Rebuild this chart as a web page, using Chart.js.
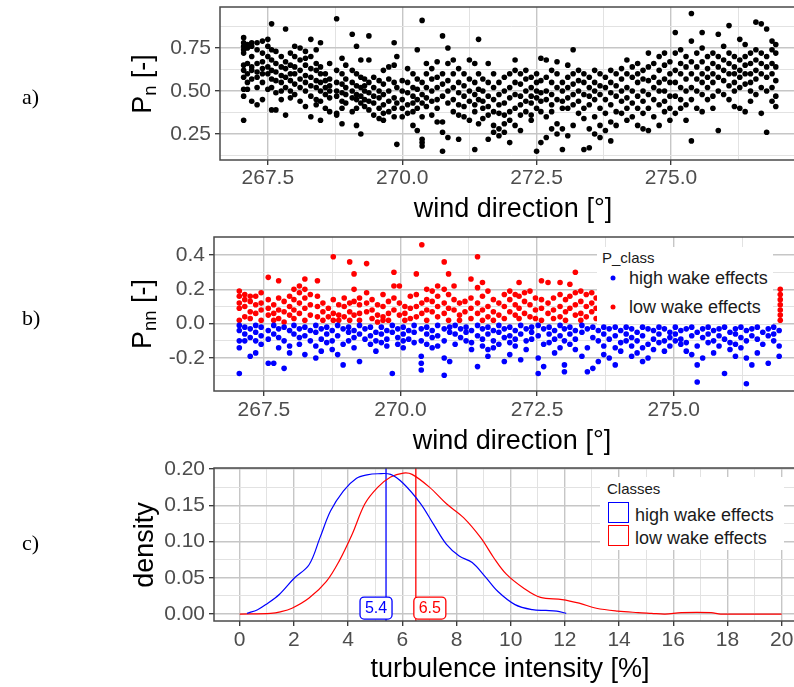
<!DOCTYPE html>
<html>
<head>
<meta charset="utf-8">
<script src="https://cdn.jsdelivr.net/npm/chart.js@4.4.1/dist/chart.umd.min.js"></script>
<style>
    html, body { margin: 0; overflow: hidden; }
    body { width: 794px; height: 687px; position: relative; background: #fff; font-family: 'Liberation Sans', Arial, sans-serif; }
    canvas { position: absolute; left: 0; }
    .tag { position: absolute; left: 22px; font-family: 'Liberation Serif', 'Times New Roman', serif; font-size: 22px; transform: translateY(-50%); }
    .xtitle { position: absolute; transform: translate(-50%, -50%); font-size: 27px; white-space: nowrap; color: #000; }
    .ytitle { position: absolute; transform: translate(-50%, -50%) rotate(-90deg); font-size: 27px; white-space: nowrap; color: #000; }
    .ytitle sub { font-size: 0.68em; vertical-align: -0.25em; }
    .legend { position: absolute; background: #fff; color: #1a1a1a; }
    .legend .ltitle { position: absolute; font-size: 15px; }
    .legend .item { position: absolute; font-size: 18px; white-space: nowrap; transform: translateY(-50%); }
    .dot { position: absolute; width: 5px; height: 5px; border-radius: 50%; transform: translate(-50%, -50%); }
    .key { position: absolute; width: 19px; height: 19px; border: 1.5px solid; background: #fff; }
</style>
</head>
<body>
<canvas id="chartA" width="806" height="225" style="top:0"></canvas>
<canvas id="chartB" width="810" height="225" style="top:225px"></canvas>
<canvas id="chartC" width="809" height="232" style="top:455px"></canvas>

<div class="tag" style="top:97px">a)</div>
<div class="tag" style="top:318px">b)</div>
<div class="tag" style="top:543px">c)</div>

<div class="ytitle" style="left:144px; top:84px">P<sub>n</sub> [-]</div>
<div class="xtitle" style="left:513px; top:208px">wind direction [°]</div>
<div class="ytitle" style="left:144px; top:314px">P<sub>nn</sub> [-]</div>
<div class="xtitle" style="left:512px; top:440px">wind direction [°]</div>
<div class="ytitle" style="left:144px; top:545px">density</div>
<div class="xtitle" style="left:510px; top:668px">turbulence intensity [%]</div>

<div class="legend" id="legendB" style="left:597px; top:247px; width:176px; height:77px"></div>
<div class="legend" id="legendC" style="left:600px; top:477px; width:184px; height:73px"></div>

<script>
// axis ticks (major ones get a label)
const dirTicks = [267.5, 268.75, 270, 271.25, 272.5, 273.75, 275, 276.25];
const dirLabels = [267.5, 270, 272.5, 275];
const pnTicks = [0.125, 0.25, 0.375, 0.5, 0.625, 0.75, 0.875];
const pnLabels = [0.25, 0.5, 0.75];
const pnnTicks = [-0.3, -0.2, -0.1, 0, 0.1, 0.2, 0.3, 0.4];
const pnnLabels = [-0.2, 0, 0.2, 0.4];
const tiTicks = [0, 1, 2, 3, 4, 5, 6, 7, 8, 9, 10, 11, 12, 13, 14, 15, 16, 17, 18, 19, 20];
const tiLabels = [0, 2, 4, 6, 8, 10, 12, 14, 16, 18, 20];
const densTicks = [0, 0.025, 0.05, 0.075, 0.1, 0.125, 0.15, 0.175, 0.2];
const densLabels = [0, 0.05, 0.1, 0.15, 0.2];

const classNames = ['high wake effects', 'low wake effects'];
const classColors = ['#0000ff', '#ff0000'];
const meanTI = [5.4, 6.5];

// a) normalised power: [wind direction, Pn values...]
const pnRows = [
    [267.05, 0.81, 0.78, 0.76, 0.74, 0.72, 0.65, 0.62, 0.58, 0.51, 0.47, 0.33],
    [267.12, 0.77, 0.75, 0.66, 0.60, 0.55, 0.51],
    [267.20, 0.78, 0.76, 0.70, 0.64, 0.62, 0.57, 0.44],
    [267.30, 0.78, 0.74, 0.66, 0.61, 0.58, 0.52, 0.42],
    [267.40, 0.79, 0.72, 0.67, 0.63, 0.60, 0.55, 0.45],
    [267.50, 0.80, 0.76, 0.70, 0.64, 0.60, 0.51],
    [267.57, 0.89, 0.74, 0.68, 0.62, 0.57, 0.52, 0.39],
    [267.65, 0.73, 0.66, 0.61, 0.56, 0.49, 0.39],
    [267.75, 0.70, 0.64, 0.59, 0.55, 0.50, 0.45],
    [267.83, 0.86, 0.67, 0.63, 0.58, 0.52, 0.36],
    [267.92, 0.72, 0.65, 0.60, 0.56, 0.50, 0.46],
    [268.00, 0.76, 0.70, 0.64, 0.60, 0.54, 0.48],
    [268.10, 0.75, 0.68, 0.62, 0.57, 0.52, 0.44],
    [268.20, 0.73, 0.69, 0.65, 0.59, 0.55, 0.50, 0.41],
    [268.30, 0.80, 0.70, 0.63, 0.58, 0.53, 0.47, 0.35],
    [268.40, 0.74, 0.66, 0.62, 0.56, 0.52, 0.45, 0.42],
    [268.48, 0.78, 0.64, 0.60, 0.55, 0.50, 0.44, 0.33],
    [268.57, 0.60, 0.56, 0.52, 0.48, 0.40],
    [268.65, 0.66, 0.57, 0.53, 0.50, 0.46, 0.38],
    [268.78, 0.92, 0.62, 0.55, 0.50, 0.47, 0.37, 0.36],
    [268.88, 0.69, 0.60, 0.54, 0.49, 0.44, 0.40, 0.31],
    [268.95, 0.65, 0.57, 0.52, 0.48, 0.43],
    [269.07, 0.83, 0.62, 0.55, 0.50, 0.46, 0.38],
    [269.15, 0.76, 0.60, 0.53, 0.48, 0.45, 0.40, 0.30],
    [269.23, 0.68, 0.58, 0.52, 0.47, 0.43, 0.25],
    [269.30, 0.57, 0.53, 0.50, 0.45, 0.41],
    [269.38, 0.82, 0.68, 0.55, 0.49, 0.44, 0.39],
    [269.47, 0.58, 0.52, 0.47, 0.43, 0.36],
    [269.57, 0.56, 0.50, 0.46, 0.40, 0.34],
    [269.65, 0.62, 0.54, 0.48, 0.42, 0.37, 0.33],
    [269.75, 0.64, 0.57, 0.50, 0.44, 0.38],
    [269.85, 0.78, 0.65, 0.55, 0.46, 0.40, 0.35],
    [269.90, 0.70, 0.52, 0.43, 0.19],
    [270.00, 0.56, 0.50, 0.45, 0.40, 0.35],
    [270.10, 0.63, 0.55, 0.49, 0.42, 0.37],
    [270.20, 0.60, 0.52, 0.47, 0.43, 0.38, 0.30],
    [270.28, 0.74, 0.57, 0.51, 0.45, 0.40, 0.27],
    [270.37, 0.91, 0.55, 0.48, 0.43, 0.35, 0.22, 0.20, 0.18],
    [270.45, 0.66, 0.60, 0.52, 0.46, 0.41],
    [270.55, 0.63, 0.57, 0.50, 0.44, 0.36],
    [270.65, 0.67, 0.58, 0.52, 0.45, 0.40, 0.32],
    [270.75, 0.82, 0.60, 0.54, 0.47, 0.32, 0.26, 0.15],
    [270.85, 0.75, 0.66, 0.56, 0.50, 0.43, 0.23],
    [270.95, 0.68, 0.60, 0.52, 0.45, 0.38],
    [271.05, 0.63, 0.55, 0.49, 0.42, 0.36, 0.22],
    [271.15, 0.60, 0.53, 0.47, 0.41, 0.35],
    [271.25, 0.68, 0.57, 0.50, 0.44, 0.33],
    [271.35, 0.66, 0.55, 0.48, 0.42, 0.38, 0.16],
    [271.42, 0.80, 0.60, 0.51, 0.45, 0.31],
    [271.50, 0.57, 0.50, 0.44, 0.40, 0.34],
    [271.60, 0.66, 0.55, 0.47, 0.41, 0.36, 0.22],
    [271.70, 0.60, 0.52, 0.45, 0.38, 0.30, 0.26],
    [271.80, 0.55, 0.48, 0.42, 0.37, 0.28, 0.24],
    [271.90, 0.58, 0.50, 0.43, 0.36, 0.31, 0.26],
    [272.00, 0.60, 0.52, 0.46, 0.38, 0.33, 0.20],
    [272.10, 0.68, 0.62, 0.55, 0.48, 0.40, 0.30],
    [272.20, 0.60, 0.54, 0.47, 0.42, 0.36, 0.27],
    [272.30, 0.62, 0.57, 0.50, 0.44, 0.38],
    [272.40, 0.58, 0.52, 0.47, 0.43, 0.36, 0.33],
    [272.50, 0.60, 0.55, 0.50, 0.46, 0.40, 0.15],
    [272.58, 0.69, 0.56, 0.49, 0.44, 0.38, 0.20],
    [272.68, 0.68, 0.58, 0.50, 0.45, 0.35, 0.23],
    [272.78, 0.62, 0.55, 0.48, 0.42, 0.38, 0.28],
    [272.88, 0.67, 0.60, 0.52, 0.45, 0.31, 0.25],
    [272.98, 0.55, 0.50, 0.44, 0.40, 0.28, 0.16],
    [273.08, 0.65, 0.58, 0.52, 0.46, 0.40, 0.24],
    [273.18, 0.74, 0.60, 0.54, 0.48, 0.42, 0.30],
    [273.28, 0.62, 0.56, 0.50, 0.44, 0.37],
    [273.38, 0.60, 0.55, 0.48, 0.40, 0.34, 0.16],
    [273.48, 0.58, 0.52, 0.47, 0.42, 0.28, 0.17],
    [273.58, 0.62, 0.55, 0.50, 0.45, 0.35, 0.25],
    [273.68, 0.60, 0.53, 0.48, 0.40, 0.30, 0.23],
    [273.78, 0.58, 0.52, 0.45, 0.37, 0.27],
    [273.88, 0.62, 0.55, 0.49, 0.42, 0.32, 0.21],
    [273.98, 0.60, 0.53, 0.47, 0.38, 0.30],
    [274.08, 0.63, 0.57, 0.50, 0.44, 0.37],
    [274.18, 0.68, 0.60, 0.52, 0.46, 0.40, 0.33],
    [274.28, 0.64, 0.58, 0.50, 0.43, 0.35],
    [274.38, 0.66, 0.60, 0.55, 0.47, 0.40, 0.30],
    [274.48, 0.62, 0.57, 0.50, 0.44, 0.37, 0.28],
    [274.58, 0.72, 0.64, 0.56, 0.48, 0.40, 0.27],
    [274.68, 0.66, 0.58, 0.52, 0.45, 0.35],
    [274.78, 0.70, 0.62, 0.55, 0.50, 0.42, 0.30],
    [274.88, 0.72, 0.65, 0.57, 0.50, 0.44, 0.38],
    [274.98, 0.67, 0.60, 0.55, 0.47, 0.40, 0.33],
    [275.08, 0.84, 0.72, 0.62, 0.55, 0.47, 0.37],
    [275.18, 0.74, 0.66, 0.60, 0.52, 0.45, 0.40],
    [275.28, 0.70, 0.64, 0.57, 0.50, 0.42, 0.33],
    [275.38, 0.95, 0.79, 0.67, 0.60, 0.52, 0.45, 0.21],
    [275.48, 0.72, 0.64, 0.57, 0.50, 0.40],
    [275.58, 0.84, 0.75, 0.67, 0.60, 0.55, 0.48, 0.38],
    [275.68, 0.70, 0.63, 0.58, 0.52, 0.45],
    [275.78, 0.72, 0.66, 0.60, 0.55, 0.47, 0.40],
    [275.88, 0.83, 0.70, 0.64, 0.58, 0.50, 0.27],
    [275.98, 0.76, 0.68, 0.62, 0.56, 0.48],
    [276.08, 0.88, 0.72, 0.66, 0.60, 0.53, 0.45],
    [276.18, 0.70, 0.64, 0.60, 0.55, 0.50, 0.41],
    [276.28, 0.80, 0.68, 0.62, 0.58, 0.52, 0.40],
    [276.38, 0.77, 0.70, 0.65, 0.60, 0.54, 0.38],
    [276.48, 0.72, 0.66, 0.60, 0.55, 0.50, 0.44],
    [276.58, 0.90, 0.74, 0.68, 0.62, 0.57, 0.48],
    [276.68, 0.89, 0.72, 0.66, 0.60, 0.52, 0.37],
    [276.78, 0.86, 0.70, 0.64, 0.58, 0.50, 0.26],
    [276.88, 0.79, 0.74, 0.66, 0.60, 0.52, 0.44],
    [276.95, 0.77, 0.72, 0.64, 0.56, 0.47, 0.41]
];

// b) Pnn, low wake effects (positive): [wind direction, values...]
const pnnLowRows = [
    [267.05, 0.19, 0.16, 0.12, 0.09, 0.02], [267.15, 0.17, 0.14, 0.10, 0.04],
    [267.25, 0.16, 0.13, 0.07, 0.03], [267.35, 0.16, 0.11, 0.06],
    [267.45, 0.18, 0.12, 0.08, 0.02], [267.58, 0.27, 0.14, 0.09, 0.05],
    [267.68, 0.11, 0.06, 0.02], [267.77, 0.25, 0.15, 0.08, 0.03],
    [267.87, 0.13, 0.07, 0.01], [267.97, 0.16, 0.10, 0.05],
    [268.05, 0.20, 0.14, 0.08, 0.03], [268.15, 0.22, 0.18, 0.12, 0.06],
    [268.25, 0.26, 0.20, 0.15, 0.09, 0.02], [268.35, 0.17, 0.11, 0.05],
    [268.48, 0.25, 0.16, 0.10, 0.04], [268.58, 0.12, 0.07, 0.02],
    [268.68, 0.09, 0.04], [268.77, 0.39, 0.14, 0.06, 0.02],
    [268.87, 0.11, 0.05, 0.02], [268.97, 0.15, 0.10, 0.04],
    [269.07, 0.36, 0.12, 0.07, 0.02], [269.15, 0.29, 0.20, 0.13, 0.05],
    [269.25, 0.15, 0.11, 0.06, 0.02], [269.38, 0.35, 0.18, 0.12, 0.07],
    [269.48, 0.14, 0.08, 0.03], [269.58, 0.11, 0.05, 0.01],
    [269.68, 0.17, 0.10, 0.04, 0.02], [269.78, 0.13, 0.06, 0.02],
    [269.88, 0.30, 0.22, 0.15, 0.08], [269.98, 0.22, 0.12, 0.05],
    [270.08, 0.10, 0.06, 0.02], [270.18, 0.16, 0.09, 0.03],
    [270.29, 0.29, 0.17, 0.10, 0.04], [270.39, 0.46, 0.12, 0.06],
    [270.48, 0.20, 0.14, 0.08, 0.02], [270.58, 0.19, 0.13, 0.07],
    [270.68, 0.22, 0.16, 0.10, 0.04], [270.80, 0.36, 0.20, 0.12, 0.06],
    [270.88, 0.29, 0.17, 0.09, 0.02], [270.98, 0.22, 0.14, 0.08],
    [271.08, 0.12, 0.05, 0.02], [271.18, 0.13, 0.07],
    [271.29, 0.26, 0.15, 0.09, 0.03], [271.41, 0.39, 0.21, 0.12, 0.06],
    [271.50, 0.24, 0.16, 0.08, 0.02], [271.60, 0.19, 0.10, 0.04],
    [271.70, 0.14, 0.07, 0.02], [271.80, 0.12, 0.05],
    [271.90, 0.17, 0.10, 0.03], [272.00, 0.19, 0.14, 0.07],
    [272.10, 0.17, 0.11, 0.05], [272.17, 0.24, 0.16, 0.09, 0.03],
    [272.27, 0.18, 0.13, 0.06], [272.37, 0.19, 0.11, 0.04],
    [272.47, 0.15, 0.08, 0.03], [272.58, 0.25, 0.14, 0.09, 0.02],
    [272.70, 0.24, 0.12, 0.06], [272.80, 0.15, 0.08, 0.03],
    [272.92, 0.24, 0.17, 0.10, 0.04], [273.02, 0.14, 0.07, 0.02],
    [273.10, 0.23, 0.16, 0.09], [273.20, 0.30, 0.18, 0.11, 0.05],
    [273.30, 0.19, 0.13, 0.06, 0.02], [273.40, 0.17, 0.10, 0.04],
    [273.50, 0.18, 0.12, 0.07], [273.58, 0.15, 0.09, 0.03],
    [274.20, 0.14, 0.08, 0.03], [275.00, 0.12, 0.05], [276.00, 0.15, 0.06],
    [276.95, 0.20, 0.17, 0.14, 0.11, 0.08, 0.05, 0.02]
];

// b) Pnn, high wake effects (negative)
const pnnHighRows = [
    [267.05, -0.01, -0.04, -0.10, -0.14, -0.29], [267.15, -0.02, -0.06, -0.10],
    [267.25, -0.03, -0.08, -0.19], [267.35, -0.01, -0.05, -0.10, -0.17],
    [267.45, -0.02, -0.07, -0.12], [267.58, -0.04, -0.09, -0.23],
    [267.68, -0.01, -0.06, -0.23], [267.77, -0.03, -0.08, -0.14],
    [267.87, -0.02, -0.10, -0.26], [267.97, -0.04, -0.13, -0.17],
    [268.05, -0.01, -0.06], [268.15, -0.03, -0.08, -0.12],
    [268.25, -0.02, -0.07, -0.18], [268.35, -0.04, -0.10],
    [268.45, -0.01, -0.05, -0.13, -0.20], [268.55, -0.03, -0.09, -0.16],
    [268.65, -0.02, -0.06, -0.11], [268.75, -0.04, -0.10, -0.15],
    [268.85, -0.01, -0.07, -0.18], [268.95, -0.03, -0.12, -0.24],
    [269.05, -0.02, -0.05, -0.10], [269.15, -0.04, -0.08, -0.14],
    [269.25, -0.01, -0.06, -0.22], [269.35, -0.03, -0.09],
    [269.45, -0.02, -0.07, -0.12], [269.55, -0.05, -0.10, -0.16],
    [269.65, -0.02, -0.06, -0.11], [269.75, -0.04, -0.09, -0.13],
    [269.85, -0.01, -0.05, -0.29], [269.95, -0.03, -0.08, -0.12],
    [270.05, -0.02, -0.06, -0.10, -0.14], [270.15, -0.04, -0.09],
    [270.25, -0.01, -0.05, -0.11], [270.38, -0.03, -0.10, -0.19, -0.23, -0.27],
    [270.48, -0.02, -0.06, -0.12], [270.58, -0.04, -0.08, -0.14],
    [270.68, -0.01, -0.07, -0.13], [270.80, -0.03, -0.10, -0.20, -0.30],
    [270.90, -0.02, -0.05, -0.22], [271.00, -0.01, -0.06, -0.12],
    [271.10, -0.03, -0.08], [271.20, -0.02, -0.05, -0.10],
    [271.30, -0.04, -0.11, -0.15], [271.41, -0.01, -0.07, -0.25],
    [271.50, -0.03, -0.09, -0.13], [271.60, -0.02, -0.06, -0.15, -0.19],
    [271.70, -0.04, -0.10, -0.14], [271.80, -0.01, -0.05, -0.12],
    [271.90, -0.03, -0.08, -0.22], [272.00, -0.02, -0.07, -0.11, -0.18],
    [272.10, -0.04, -0.09, -0.13], [272.20, -0.01, -0.06, -0.21],
    [272.30, -0.03, -0.10, -0.15], [272.40, -0.02, -0.05, -0.09],
    [272.52, -0.01, -0.07, -0.20, -0.29], [272.62, -0.03, -0.12, -0.25],
    [272.72, -0.02, -0.06, -0.11], [272.82, -0.04, -0.09, -0.17],
    [272.92, -0.01, -0.07, -0.14], [273.00, -0.03, -0.10, -0.24, -0.28],
    [273.10, -0.02, -0.06, -0.12], [273.20, -0.04, -0.09, -0.15],
    [273.32, -0.01, -0.05, -0.19], [273.42, -0.03, -0.14, -0.28],
    [273.52, -0.02, -0.08, -0.26], [273.62, -0.04, -0.10, -0.22],
    [273.72, -0.02, -0.06, -0.13, -0.18], [273.82, -0.03, -0.09, -0.20],
    [273.93, -0.02, -0.07, -0.14, -0.24], [274.03, -0.04, -0.11, -0.16],
    [274.13, -0.02, -0.06, -0.10], [274.23, -0.03, -0.08, -0.13, -0.19],
    [274.33, -0.05, -0.10, -0.17], [274.43, -0.02, -0.07, -0.14, -0.22],
    [274.53, -0.03, -0.12, -0.20], [274.63, -0.04, -0.09, -0.15],
    [274.73, -0.02, -0.06, -0.11], [274.83, -0.03, -0.10, -0.16],
    [274.93, -0.05, -0.08, -0.13], [275.03, -0.02, -0.06, -0.10],
    [275.13, -0.04, -0.09, -0.12], [275.23, -0.03, -0.11, -0.16],
    [275.33, -0.02, -0.07, -0.18], [275.43, -0.05, -0.13, -0.24, -0.34],
    [275.53, -0.03, -0.08, -0.20], [275.63, -0.02, -0.06, -0.11],
    [275.73, -0.04, -0.10, -0.17], [275.83, -0.03, -0.07, -0.13],
    [275.93, -0.02, -0.09, -0.29], [276.03, -0.05, -0.11, -0.15],
    [276.13, -0.03, -0.06, -0.12, -0.19], [276.23, -0.02, -0.08, -0.14],
    [276.33, -0.04, -0.10, -0.20, -0.35], [276.43, -0.03, -0.07, -0.24],
    [276.53, -0.02, -0.09, -0.17], [276.63, -0.05, -0.12],
    [276.73, -0.03, -0.07, -0.23], [276.83, -0.02, -0.06, -0.10],
    [276.93, -0.04, -0.13, -0.19]
];

// c) density of turbulence intensity per class
const tiHigh = [0.27, 0.66, 1.0, 1.46, 2.0, 2.56, 2.96, 3.35, 3.83, 4.3, 4.7, 5.1, 5.57, 6.04, 6.68, 7.15, 7.63, 8.1, 8.58, 9.05, 9.53, 10.16, 10.8, 11.3, 11.7, 12.05];
const densHigh = [0.001, 0.006, 0.014, 0.027, 0.049, 0.068, 0.105, 0.142, 0.170, 0.187, 0.192, 0.1935, 0.1926, 0.180, 0.152, 0.124, 0.096, 0.080, 0.071, 0.052, 0.031, 0.013, 0.006, 0.005, 0.004, 0.001];
const tiLow = [0, 1.14, 1.5, 1.93, 2.56, 3.2, 3.67, 4.15, 4.62, 5.1, 5.57, 6.04, 6.36, 7.0, 7.63, 8.26, 8.9, 9.37, 9.84, 10.47, 11.1, 11.9, 12.53, 13.16, 13.95, 14.7, 15.2, 15.7, 16.3, 17.4, 17.75, 20];
const densLow = [0, 0.001, 0.003, 0.008, 0.022, 0.045, 0.073, 0.110, 0.152, 0.175, 0.189, 0.1944, 0.1926, 0.175, 0.152, 0.133, 0.105, 0.078, 0.055, 0.036, 0.023, 0.020, 0.015, 0.008, 0.004, 0.002, 0.001, 0, 0.002, 0.002, 0, 0];

// axis ranges
const dirRangeA = [266.61, 277.46];
const dirRangeB = [266.587, 277.443];
const pnRange = [0.099, 0.988];
const pnnRange = [-0.392, 0.505];
const tiRange = [-0.949, 21.01];
const densRange = [-0.0096, 0.2014];

const FONT = "'Liberation Sans', Arial, sans-serif";
const GRID_MAJOR = '#c6c6c6';
const GRID_MINOR = '#e2e2e2';

function rowsToPoints(rows) {
    return rows.flatMap(r => r.slice(1).map(y => ({ x: r[0], y: y })));
}

function hasValue(list, v) {
    return list.some(t => Math.abs(t - v) < 1e-9);
}

function axis(range, ticks, labels, fmt, size, pad) {
    return {
        type: 'linear',
        min: range[0],
        max: range[1],
        afterBuildTicks: s => { s.ticks = ticks.map(v => ({ value: v })); },
        afterFit: s => {
            if (s.isHorizontal()) s.height = size; else s.width = size;
            // keep the plot area exactly where the layout puts it
            s.paddingTop = 0; s.paddingBottom = 0; s.paddingLeft = 0; s.paddingRight = 0;
        },
        border: { display: false },
        grid: {
            color: c => hasValue(labels, c.tick.value) ? GRID_MAJOR : GRID_MINOR,
            lineWidth: c => hasValue(labels, c.tick.value) ? 1.4 : 1,
            tickColor: c => hasValue(labels, c.tick.value) ? '#333' : 'rgba(0,0,0,0)',
            tickLength: 5,
            tickWidth: 1.3
        },
        ticks: {
            autoSkip: false,
            maxRotation: 0,
            padding: pad,
            color: '#4d4d4d',
            font: { family: FONT, size: 21 },
            callback: v => hasValue(labels, v) ? fmt(v) : ''
        }
    };
}

const panelFrame = {
    id: 'panelFrame',
    afterDraw(chart) {
        const a = chart.chartArea;
        const ctx = chart.ctx;
        ctx.save();
        ctx.strokeStyle = '#4a4a4a';
        ctx.lineWidth = 1.5;
        ctx.strokeRect(a.left, a.top, a.right - a.left, a.bottom - a.top);
        ctx.restore();
    }
};

function baseOptions(padTop) {
    return {
        responsive: false,
        animation: false,
        layout: { padding: { top: padTop, left: 0, right: 0, bottom: 0 } },
        plugins: { legend: { display: false }, tooltip: { enabled: false } },
        elements: { point: { radius: 2.8, borderWidth: 0, hoverRadius: 2.8 } }
    };
}

// a)
new Chart(document.getElementById('chartA'), {
    type: 'scatter',
    data: {
        datasets: [{ data: rowsToPoints(pnRows), backgroundColor: '#000' }]
    },
    options: Object.assign(baseOptions(7), {
        scales: {
            x: axis(dirRangeA, dirTicks, dirLabels, v => v.toFixed(1), 65, 1),
            y: axis(pnRange, pnTicks, pnLabels, v => v.toFixed(2), 220, 4)
        }
    }),
    plugins: [panelFrame]
});

// b)
new Chart(document.getElementById('chartB'), {
    type: 'scatter',
    data: {
        datasets: [
            { label: classNames[0], data: rowsToPoints(pnnHighRows), backgroundColor: classColors[0] },
            { label: classNames[1], data: rowsToPoints(pnnLowRows), backgroundColor: classColors[1] }
        ]
    },
    options: Object.assign(baseOptions(12), {
        scales: {
            x: axis(dirRangeB, dirTicks, dirLabels, v => v.toFixed(1), 59, 2),
            y: axis(pnnRange, pnnTicks, pnnLabels, v => v.toFixed(1), 214, 4)
        }
    }),
    plugins: [panelFrame]
});

// c) labels for the class means
const meanLabels = {
    id: 'meanLabels',
    afterDatasetsDraw(chart) {
        const ctx = chart.ctx;
        const xs = chart.scales.x, ys = chart.scales.y;
        const y0 = ys.getPixelForValue(0);
        ctx.save();
        ctx.font = '16px ' + FONT;
        ctx.textAlign = 'center';
        ctx.textBaseline = 'middle';
        meanTI.forEach((m, i) => {
            const px = xs.getPixelForValue(m);
            const w = 32, h = 22;
            const left = i === 0 ? px + 6 - w : px - 2;
            const top = y0 - 17;
            ctx.fillStyle = '#fff';
            ctx.strokeStyle = classColors[i];
            ctx.lineWidth = 1.3;
            ctx.beginPath();
            ctx.roundRect(left, top, w, h, 4);
            ctx.fill();
            ctx.stroke();
            ctx.fillStyle = classColors[i];
            ctx.fillText(m.toFixed(1), left + w / 2, top + h / 2 + 1);
        });
        ctx.restore();
    }
};

const curve = (xs, ys) => xs.map((x, i) => ({ x: x, y: ys[i] }));

new Chart(document.getElementById('chartC'), {
    type: 'line',
    data: {
        datasets: [
            { data: curve(tiHigh, densHigh), borderColor: classColors[0], borderWidth: 1.2, pointRadius: 0, tension: 0.35, fill: false },
            { data: curve(tiLow, densLow), borderColor: classColors[1], borderWidth: 1.2, pointRadius: 0, tension: 0.35, fill: false },
            { data: meanTI.slice(0, 1).flatMap(m => [{ x: m, y: densRange[0] }, { x: m, y: densRange[1] }]), borderColor: classColors[0], borderWidth: 1.3, pointRadius: 0 },
            { data: meanTI.slice(1, 2).flatMap(m => [{ x: m, y: densRange[0] }, { x: m, y: densRange[1] }]), borderColor: classColors[1], borderWidth: 1.3, pointRadius: 0 }
        ]
    },
    options: Object.assign(baseOptions(13), {
        scales: {
            x: axis(tiRange, tiTicks, tiLabels, v => String(v), 66, 2),
            y: axis(densRange, densTicks, densLabels, v => v.toFixed(2), 214, 4)
        }
    }),
    plugins: [panelFrame, meanLabels]
});

// legends
const legendB = document.getElementById('legendB');
legendB.innerHTML = '<div class="ltitle" style="left:5px; top:2px">P_class</div>' +
    classNames.map((n, i) =>
        '<div class="dot" style="left:16px; top:' + (31 + i * 29) + 'px; background:' + classColors[i] + '"></div>' +
        '<div class="item" style="left:32px; top:' + (31 + i * 29) + 'px">' + n + '</div>').join('');

const legendC = document.getElementById('legendC');
legendC.innerHTML = '<div class="ltitle" style="left:7px; top:3px">Classes</div>' +
    classNames.map((n, i) =>
        '<div class="key" style="left:8px; top:' + (25 + i * 23) + 'px; border-color:' + classColors[i] + '"></div>' +
        '<div class="item" style="left:35px; top:' + (38 + i * 23) + 'px">' + n + '</div>').join('');
</script>
</body>
</html>
